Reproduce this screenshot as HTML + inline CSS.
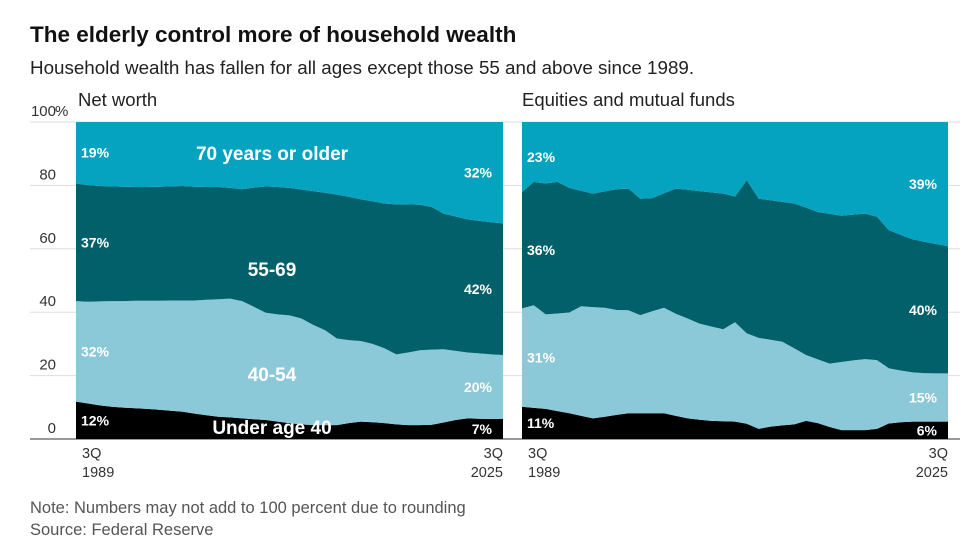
<!DOCTYPE html>
<html><head><meta charset="utf-8">
<style>
body{margin:0;background:#fff;font-family:"Liberation Sans",sans-serif;}
#wrap{position:relative;width:980px;height:542px;overflow:hidden;}
</style></head>
<body>
<div id="wrap">
<svg id="svg" width="980" height="542" xmlns="http://www.w3.org/2000/svg" font-family="Liberation Sans, sans-serif">
<text x="30" y="42" font-size="22.5" font-weight="bold" fill="#111">The elderly control more of household wealth</text>
<text x="30" y="74" font-size="18.8" fill="#222">Household wealth has fallen for all ages except those 55 and above since 1989.</text>
<text x="78" y="106" font-size="18.5" fill="#222">Net worth</text>
<text x="522" y="106" font-size="18.5" fill="#222">Equities and mutual funds</text>
<g id="grid"></g>
<g id="panels"></g>
<text x="30" y="513" font-size="16.5" fill="#555">Note: Numbers may not add to 100 percent due to rounding</text>
<text x="30" y="535" font-size="16.5" fill="#555">Source: Federal Reserve</text>
</svg>
</div>
<script>
const years=[];for(let y=1989;y<=2025;y++)years.push(y);
const yTicks=[0,20,40,60,80,100];
const seriesNames=['under-40','age-40-54','age-55-69','age-70-plus'];
const seriesColors=['#000000','#8bc8d8','#02606b','#05a3bf'];
const nwUnder40=[11.8,11.2,10.6,10.2,9.9,9.7,9.5,9.2,8.9,8.6,8.0,7.5,7.0,6.8,6.5,6.2,6.0,5.5,5.0,4.6,4.4,4.4,4.4,5.0,5.5,5.3,5.0,4.6,4.4,4.4,4.5,5.2,6.0,6.5,6.4,6.3,6.3];
const nw40to54=[31.7,32.1,32.8,33.3,33.6,33.9,34.1,34.4,34.8,35.1,35.7,36.4,37.1,37.5,37.0,35.5,33.8,33.8,34.0,33.4,31.6,29.9,27.3,26.2,25.4,24.7,23.6,22.1,22.9,23.6,23.7,23.1,21.8,20.8,20.6,20.4,20.2];
const nw55to69=[37.1,36.8,36.4,36.2,36.1,35.9,35.9,36.0,36.0,36.1,35.9,35.6,35.4,34.9,35.3,37.6,39.9,40.2,40.2,40.7,42.2,43.4,45.4,45.2,44.7,45.0,45.7,47.3,46.7,45.9,45.0,42.8,42.4,42.0,41.8,41.7,41.5];
const nw70plus=[19.4,19.9,20.2,20.3,20.4,20.5,20.5,20.4,20.3,20.2,20.4,20.5,20.5,20.8,21.2,20.7,20.3,20.5,20.8,21.3,21.8,22.3,22.9,23.6,24.4,25.0,25.7,26.0,26.0,26.1,26.8,28.9,29.8,30.7,31.2,31.6,32.0];
const eqUnder40=[10.2,9.8,9.5,8.8,8.1,7.3,6.5,7.0,7.6,8.1,8.1,8.1,8.1,7.3,6.5,6.1,5.7,5.6,5.5,4.8,3.2,3.9,4.3,4.6,5.7,5.0,3.8,2.8,2.8,2.8,3.2,4.9,5.3,5.5,5.5,5.5,5.5];
const eq40to54=[31.0,32.4,29.8,30.8,31.8,34.6,35.1,34.4,33.1,32.5,31.0,32.2,33.3,32.2,31.5,30.3,29.8,29.0,31.3,28.5,28.7,27.4,26.4,24.0,20.8,20.1,20.0,21.5,22.0,22.4,21.7,17.4,16.3,15.5,15.3,15.2,15.2];
const eq55to69=[36.7,38.9,41.3,41.5,39.3,36.4,35.8,36.7,38.1,38.4,36.7,35.7,36.1,39.5,40.6,41.8,42.3,42.8,39.7,48.3,43.9,44.0,44.1,45.7,46.5,46.5,47.2,46.1,46.0,45.9,45.2,43.6,42.8,42.0,41.4,40.8,40.1];
const eq70plus=[22.1,18.9,19.4,18.9,20.8,21.7,22.6,21.9,21.2,21.0,24.2,24.0,22.5,21.0,21.4,21.8,22.2,22.6,23.5,18.4,24.2,24.7,25.2,25.7,27.0,28.4,29.0,29.6,29.2,28.9,29.9,34.1,35.6,37.0,37.8,38.5,39.2];
const nwStartLabels=['12%','32%','37%','19%'];
const nwEndLabels=['7%','20%','42%','32%'];
const eqStartLabels=['11%','31%','36%','23%'];
const eqEndLabels=['6%','15%','40%','39%'];

const NS='http://www.w3.org/2000/svg';
const Y0=439,Y1=122;
function yScale(v){return Y0-(v/100)*(Y0-Y1);}
function mk(tag,attrs,parent){const e=document.createElementNS(NS,tag);for(const k in attrs)e.setAttribute(k,attrs[k]);parent.appendChild(e);return e;}
const grid=document.getElementById('grid');
yTicks.forEach(t=>{
  const y=yScale(t);
  const l=mk('line',{x1:30,x2:960,y1:y,y2:y,stroke:t===0?'#333':'#ddd','stroke-width':1},grid);
  
  
  const tx=mk('text',{x:56,y:y-6,'font-size':15,fill:'#333','text-anchor':'end'},grid);
  tx.textContent=String(t);
  
  
  if(t===100){const p=mk('text',{x:55,y:y-6,'font-size':15,fill:'#333'},grid);p.textContent='%';
    
    }
});
const panelsG=document.getElementById('panels');
function drawPanel(key,x0,x1,series,startL,endL,areaLabels){
  const g=mk('g',{},panelsG);
  
  
  const xs=i=>x0+(years[i]-years[0])/(years[years.length-1]-years[0])*(x1-x0);
  const n=years.length;
  const cum=[];let base=new Array(n).fill(0);
  const totals=years.map((_,i)=>series.reduce((s,a)=>s+a[i],0));
  series.forEach((arr,si)=>{
    const lo=base.slice();const hi=base.map((b,i)=>b+arr[i]/totals[i]*100);
    cum.push([lo,hi]);base=hi;
  });
  cum.forEach(([lo,hi],si)=>{
    let d='';
    for(let i=0;i<n;i++)d+=(i?'L':'M')+xs(i).toFixed(1)+','+yScale(hi[i]).toFixed(1);
    for(let i=n-1;i>=0;i--)d+='L'+xs(i).toFixed(1)+','+yScale(lo[i]).toFixed(1);
    d+='Z';
    const p=mk('path',{d:d,fill:seriesColors[si]},g);
    
    
  });
  cum.forEach(([lo,hi],si)=>{
    const ys=(lo[0]+hi[0])/2, ye=(lo[n-1]+hi[n-1])/2;
    const a=mk('text',{x:x0+5,y:yScale(ys)+5,'font-size':14,'font-weight':'bold',fill:'#fff'},g);
    a.textContent=startL[si];
    
    
    const b=mk('text',{x:x1-11,y:yScale(ye)+5,'font-size':14,'font-weight':'bold',fill:'#fff','text-anchor':'end'},g);
    b.textContent=endL[si];
    
    
  });
  const xl=[['3Q','1989',x0+6,'start'],['3Q','2025',x1,'end']];
  xl.forEach(([q,yr,x,anc],k)=>{
    const t1=mk('text',{x:x,y:458,'font-size':14.5,fill:'#333','text-anchor':anc},g);t1.textContent=q;
    
    
    const t2=mk('text',{x:x,y:477,'font-size':14.5,fill:'#333','text-anchor':anc},g);t2.textContent=yr;
    
    
  });
  if(areaLabels){
    areaLabels.forEach(([txt,x,y,nm])=>{
      const t=mk('text',{x:x,y:y,'font-size':19,'font-weight':'bold',fill:'#fff','text-anchor':'middle'},g);t.textContent=txt;
      
      
    });
  }
}
drawPanel('net-worth',76,503,[nwUnder40,nw40to54,nw55to69,nw70plus],nwStartLabels,nwEndLabels,
 [['70 years or older',272,160,'label-70-plus'],['55-69',272,276,'label-55-69'],['40-54',272,381,'label-40-54'],['Under age 40',272,434,'label-under-40']]);
drawPanel('equities',522,948,[eqUnder40,eq40to54,eq55to69,eq70plus],eqStartLabels,eqEndLabels,null);
</script>
</body></html>
